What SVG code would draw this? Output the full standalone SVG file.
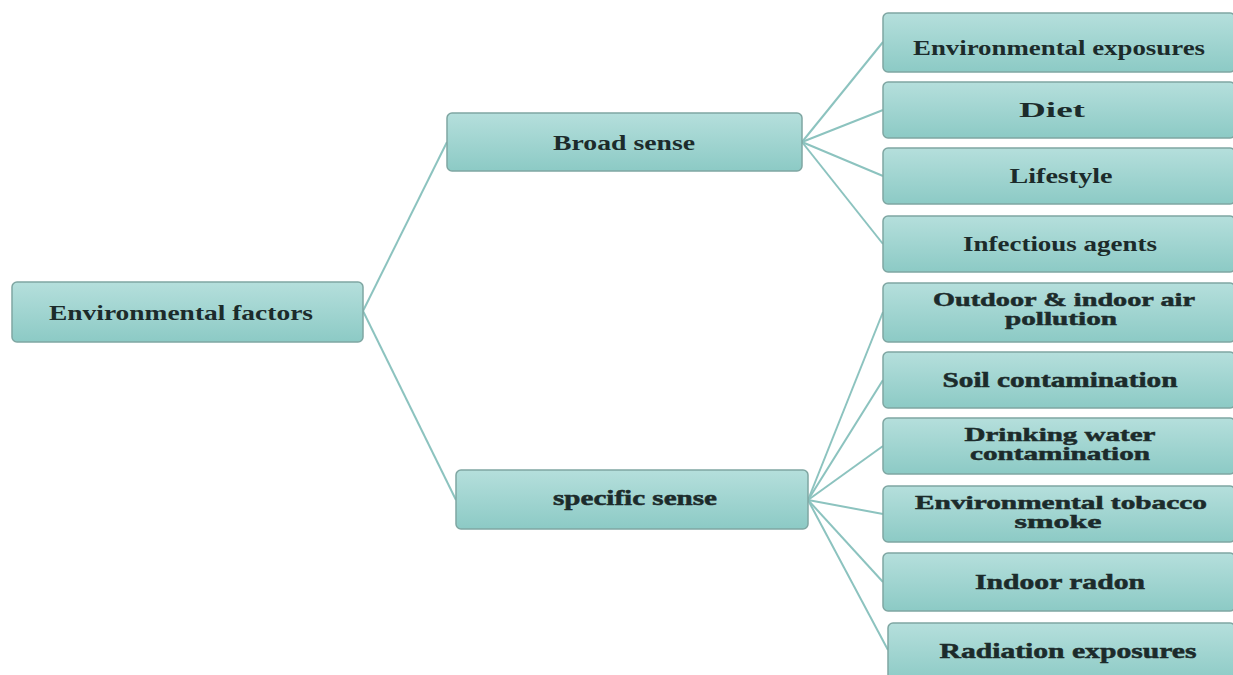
<svg xmlns="http://www.w3.org/2000/svg" width="1233" height="675" viewBox="0 0 1233 675">
<defs>
<linearGradient id="g" x1="0" y1="0" x2="0" y2="1">
<stop offset="0" stop-color="#b5dfdc"/>
<stop offset="1" stop-color="#8ccac5"/>
</linearGradient>
<style>
.box{fill:url(#g);stroke:#7fa6a2;stroke-width:1.5}
.t{font-family:"Liberation Serif","Times New Roman",serif;font-weight:bold;font-size:21px;fill:#1c2b2b;text-anchor:middle}
.h{stroke:#1c2b2b;stroke-width:0.5}
.s{font-size:19px}
.c{stroke:#8cc3bf;stroke-width:2;fill:none}
</style>
</defs>
<rect width="1233" height="675" fill="#ffffff"/>
<g id="connectors">
<line class="c" x1="363" y1="311" x2="447" y2="142"/>
<line class="c" x1="363" y1="311" x2="456" y2="500"/>
<line class="c" x1="802" y1="142" x2="883" y2="42"/>
<line class="c" x1="802" y1="142" x2="883" y2="110"/>
<line class="c" x1="802" y1="142" x2="883" y2="176"/>
<line class="c" x1="802" y1="142" x2="883" y2="244"/>
<line class="c" x1="808" y1="500" x2="883" y2="312"/>
<line class="c" x1="808" y1="500" x2="883" y2="380"/>
<line class="c" x1="808" y1="500" x2="883" y2="446"/>
<line class="c" x1="808" y1="500" x2="883" y2="514"/>
<line class="c" x1="808" y1="500" x2="883" y2="582"/>
<line class="c" x1="808" y1="500" x2="888" y2="650"/>
</g>
<g id="n-env-factors"><rect class="box" x="12" y="282" width="351" height="60" rx="5"/><text class="t" x="181" y="320" textLength="264" lengthAdjust="spacingAndGlyphs">Environmental factors</text></g>
<g id="n-broad"><rect class="box" x="447" y="113" width="355" height="58" rx="5"/><text class="t" x="624" y="150" textLength="142" lengthAdjust="spacingAndGlyphs">Broad sense</text></g>
<g id="n-specific"><rect class="box" x="456" y="470" width="352" height="59" rx="5"/><text class="t h" x="635" y="505" textLength="164" lengthAdjust="spacingAndGlyphs">specific sense</text></g>
<g id="n-exposures"><rect class="box" x="883" y="13" width="352" height="59" rx="5"/><text class="t" x="1059" y="55" textLength="292" lengthAdjust="spacingAndGlyphs">Environmental exposures</text></g>
<g id="n-diet"><rect class="box" x="883" y="82" width="352" height="56" rx="5"/><text class="t" x="1052" y="117" textLength="66" lengthAdjust="spacingAndGlyphs">Diet</text></g>
<g id="n-lifestyle"><rect class="box" x="883" y="148" width="352" height="56" rx="5"/><text class="t" x="1061" y="183" textLength="103" lengthAdjust="spacingAndGlyphs">Lifestyle</text></g>
<g id="n-infectious"><rect class="box" x="883" y="216" width="352" height="56" rx="5"/><text class="t" x="1060" y="251" textLength="194" lengthAdjust="spacingAndGlyphs">Infectious agents</text></g>
<g id="n-air"><rect class="box" x="883" y="283" width="352" height="59" rx="5"/><text class="t h s" x="1064" y="306" textLength="262" lengthAdjust="spacingAndGlyphs">Outdoor &amp; indoor air</text><text class="t h s" x="1061" y="325" textLength="112" lengthAdjust="spacingAndGlyphs">pollution</text></g>
<g id="n-soil"><rect class="box" x="883" y="352" width="352" height="56" rx="5"/><text class="t h" x="1060" y="387" textLength="235" lengthAdjust="spacingAndGlyphs">Soil contamination</text></g>
<g id="n-water"><rect class="box" x="883" y="418" width="352" height="56" rx="5"/><text class="t h s" x="1060" y="441" textLength="191" lengthAdjust="spacingAndGlyphs">Drinking water</text><text class="t h s" x="1060" y="460" textLength="180" lengthAdjust="spacingAndGlyphs">contamination</text></g>
<g id="n-tobacco"><rect class="box" x="883" y="486" width="352" height="56" rx="5"/><text class="t h s" x="1061" y="509" textLength="292" lengthAdjust="spacingAndGlyphs">Environmental tobacco</text><text class="t h s" x="1058" y="528" textLength="87" lengthAdjust="spacingAndGlyphs">smoke</text></g>
<g id="n-radon"><rect class="box" x="883" y="553" width="352" height="58" rx="5"/><text class="t h" x="1060" y="589" textLength="170" lengthAdjust="spacingAndGlyphs">Indoor radon</text></g>
<g id="n-radiation"><rect class="box" x="888" y="623" width="347" height="60" rx="5"/><text class="t h" x="1068" y="658" textLength="257" lengthAdjust="spacingAndGlyphs">Radiation exposures</text></g>
</svg>
